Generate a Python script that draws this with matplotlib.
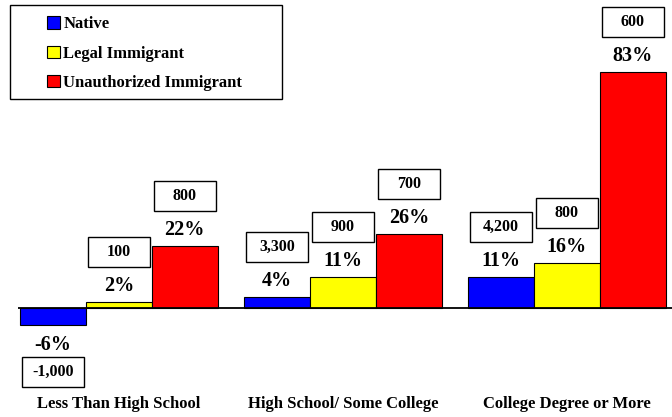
import numpy as np
import matplotlib.pyplot as plt
from matplotlib.patches import Rectangle, Patch

plt.rcParams['font.family'] = ['Liberation Serif', 'DejaVu Serif']
plt.rcParams['font.weight'] = 'bold'

categories = ['Less Than High School', 'High School/ Some College', 'College Degree or More']
series = ['Native', 'Legal Immigrant', 'Unauthorized Immigrant']
colors = ['#0000FF', '#FFFF00', '#FF0000']

native_pct = [-6, 4, 11]
legal_pct = [2, 11, 16]
unauth_pct = [22, 26, 83]

native_n = ['-1,000', '3,300', '4,200']
legal_n = ['100', '900', '800']
unauth_n = ['800', '700', '600']

pcts = [native_pct, legal_pct, unauth_pct]
counts = [native_n, legal_n, unauth_n]

fig = plt.figure(figsize=(6.72, 4.17), dpi=100)
# axes: left 18px, right 672px, top 0, bottom 390px
ax = fig.add_axes([18/672, 27/417, 654/672, 390/417])

ppu = 2.84  # pixels per percent
ax.set_ylim((308 - 390)/ppu, 308/ppu)
ax.set_xlim(-0.45, 2.47)

x = np.arange(len(categories))
w = 66/224
box_w = 62/224
box_h = 30/ppu

for i, (vals, nums) in enumerate(zip(pcts, counts)):
    xs = x + (i - 1)*w
    ax.bar(xs, vals, width=w, color=colors[i], edgecolor='black', linewidth=0.8, label=series[i])
    for xi, v, n in zip(xs, vals, nums):
        if v >= 0:
            ty = v + 16/ppu
            by = v + 50/ppu
        else:
            ty = v - 20/ppu
            by = v - 47/ppu
        ax.text(xi, ty, f'{v}%', ha='center', va='center', fontsize=14.5, fontweight='bold')
        ax.add_patch(Rectangle((xi - box_w/2, by - box_h/2), box_w, box_h,
                               facecolor='white', edgecolor='black', linewidth=1.0))
        ax.text(xi, by, n, ha='center', va='center', fontsize=11.5, fontweight='bold')

ax.axhline(0, color='black', linewidth=1.3)
for s in ax.spines.values():
    s.set_visible(False)
ax.set_yticks([])
ax.set_xticks(x)
ax.set_xticklabels(categories, fontsize=12, fontweight='bold')
ax.tick_params(axis='x', length=0, pad=4)

handles = [Patch(facecolor=c, edgecolor='black', linewidth=0.8) for c in colors]
leg = fig.legend(handles, series, loc='upper left', bbox_to_anchor=(39/672, 1 - 8/417),
                 frameon=False, fontsize=12, handlelength=0.75, handleheight=0.75,
                 handletextpad=0.2, labelspacing=0.8, borderpad=0)
fig.patches.append(Rectangle((10/672, 1 - 99/417), 272/672, 94/417, transform=fig.transFigure,
                             facecolor='none', edgecolor='black', linewidth=1.0))

fig.savefig('out.png', dpi=100)
